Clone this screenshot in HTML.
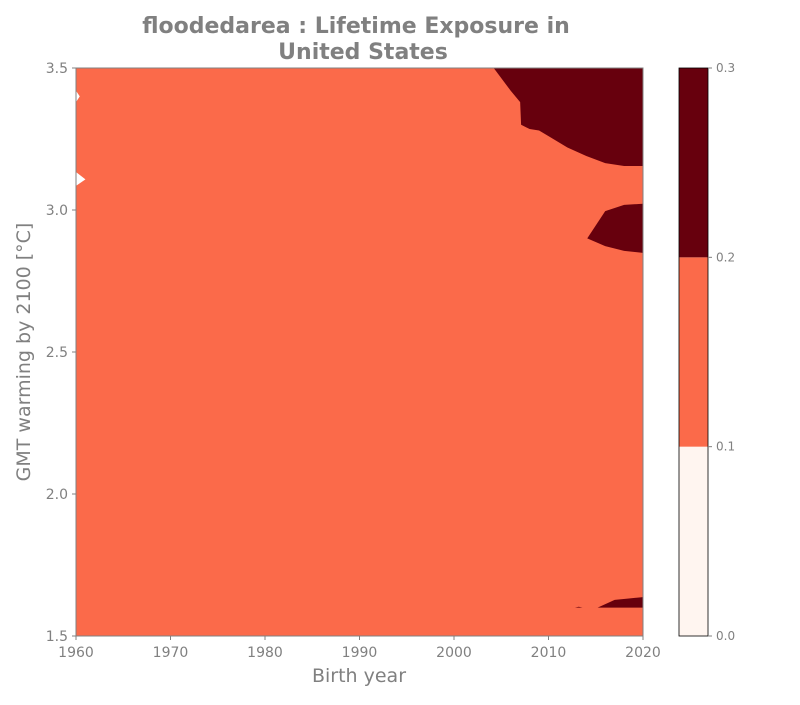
<!DOCTYPE html>
<html><head><meta charset="utf-8"><style>
body{margin:0;background:#fff;}
svg text{font-family:"DejaVu Sans","Liberation Sans",sans-serif;fill:#808080;}
</style></head><body>
<svg id="chart" width="800" height="700" viewBox="0 0 800 700">
<text x="356" y="33" text-anchor="middle" font-size="22" font-weight="bold">floodedarea : Lifetime Exposure in</text>
<text x="363" y="59" text-anchor="middle" font-size="22" font-weight="bold">United States</text>
<g id="plot"></g>
<g id="xaxis"></g>
<g id="yaxis"></g>
<text x="359" y="682" text-anchor="middle" font-size="19">Birth year</text>
<text transform="translate(30,352) rotate(-90)" text-anchor="middle" font-size="19">GMT warming by 2100 [°C]</text>
<g id="cbar"></g>
</svg>
<script>
const xTicks=[1960,1970,1980,1990,2000,2010,2020];
const yTicks=[1.5,2.0,2.5,3.0,3.5];
const cbLevels=[0.0,0.1,0.2,0.3];
const cbColors=["#fff5f0","#fb6a4a","#67000d"];
const baseLevelColor="#fb6a4a";
const darkTop=[[2004.2,3.5],[2006,3.42],[2007,3.38],[2007.1,3.3],[2008,3.285],[2009,3.28],[2010,3.26],[2012,3.22],[2014,3.19],[2016,3.165],[2018,3.155],[2020,3.155],[2020,3.5]];
const darkMid=[[2014.1,2.9],[2016,2.996],[2018,3.018],[2020,3.022],[2020,2.849],[2018,2.856],[2016,2.873]];
const darkBottom=[[2015.2,1.6],[2017,1.627],[2018.5,1.632],[2020,1.637],[2020,1.6]];
const darkBlob=[[2012.8,1.6],[2013.2,1.603],[2013.6,1.6]];
const whiteNotch1=[[1960,3.42],[1960.4,3.4],[1960,3.38]];
const whiteNotch2=[[1960,3.134],[1961,3.108],[1960,3.085]];
const X0=76,X1=643,Y0=68,Y1=636;
const sx=v=>X0+(v-1960)/60*(X1-X0);
const sy=v=>Y1-(v-1.5)/2*(Y1-Y0);
const NS="http://www.w3.org/2000/svg";
function mk(t,a,p){const e=document.createElementNS(NS,t);for(const k in a)e.setAttribute(k,a[k]);p.appendChild(e);return e;}
const plot=document.getElementById('plot');
const bg=mk('rect',{x:X0,y:Y0,width:X1-X0,height:Y1-Y0,fill:baseLevelColor},plot);


function poly(pts,fill,name){const e=mk('polygon',{points:pts.map(p=>sx(p[0])+','+sy(p[1])).join(' '),fill:fill},plot);

}
poly(darkTop,cbColors[2],'contour-dark-top');
poly(darkMid,cbColors[2],'contour-dark-mid');
poly(darkBottom,cbColors[2],'contour-dark-bottom');
poly(darkBlob,cbColors[2],'contour-dark-blob');
poly(whiteNotch1,"#ffffff",'contour-white-notch-1');
poly(whiteNotch2,"#ffffff",'contour-white-notch-2');
const fr=mk('rect',{x:X0,y:Y0,width:X1-X0,height:Y1-Y0,fill:'none',stroke:'#808080','stroke-width':1},plot);


const xa=document.getElementById('xaxis');
xTicks.forEach(t=>{mk('line',{x1:sx(t),x2:sx(t),y1:Y1,y2:Y1+4,stroke:'#808080'},xa);
const tx=mk('text',{x:sx(t),y:Y1+21,'text-anchor':'middle','font-size':14},xa);tx.textContent=t;

});
const ya=document.getElementById('yaxis');
yTicks.forEach(t=>{mk('line',{x1:X0-4,x2:X0,y1:sy(t),y2:sy(t),stroke:'#808080'},ya);
const tx=mk('text',{x:X0-8,y:sy(t)+5,'text-anchor':'end','font-size':14},ya);tx.textContent=t.toFixed(1);

});
const cb=document.getElementById('cbar');
const CX=679,CW=29;
const cy=v=>Y1-(v-cbLevels[0])/(cbLevels[cbLevels.length-1]-cbLevels[0])*(Y1-Y0);
for(let i=0;i<cbColors.length;i++){const r=mk('rect',{x:CX,y:cy(cbLevels[i+1]),width:CW,height:cy(cbLevels[i])-cy(cbLevels[i+1]),fill:cbColors[i]},cb);

}
mk('rect',{x:CX,y:Y0,width:CW,height:Y1-Y0,fill:'none',stroke:'#000','stroke-width':0.8},cb);
cbLevels.forEach(v=>{mk('line',{x1:CX+CW,x2:CX+CW+4,y1:cy(v),y2:cy(v),stroke:'#808080'},cb);
const tx=mk('text',{x:CX+CW+8,y:cy(v)+4,'font-size':12},cb);tx.textContent=v.toFixed(1);

});
</script>
</body></html>
